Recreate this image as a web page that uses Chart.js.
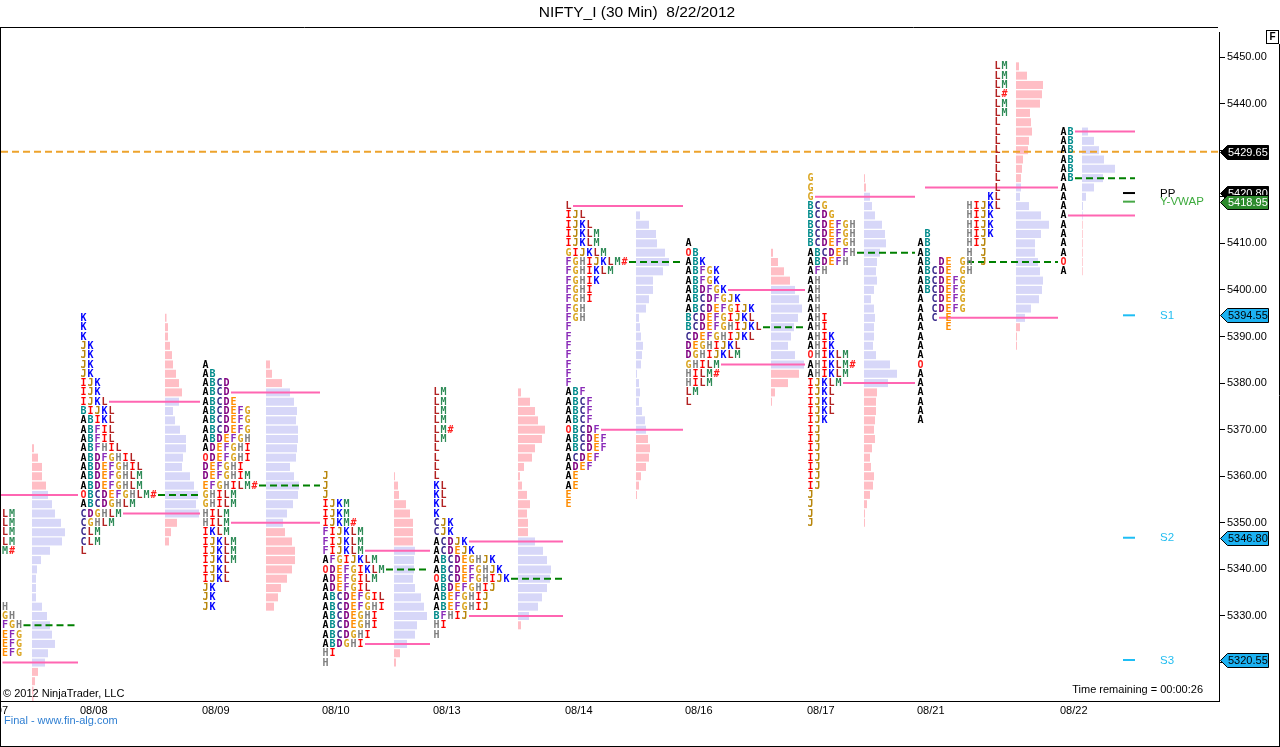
<!DOCTYPE html>
<html><head><meta charset="utf-8">
<script src="https://cdn.jsdelivr.net/npm/chart.js@4.4.0/dist/chart.umd.min.js"></script>
<style>html,body{margin:0;padding:0;background:#fff;}canvas{display:block;}</style>
</head><body>
<canvas id="c" width="1280" height="747"></canvas>
<script>
// ================= DATA =================
const dayLabels = ['08/07','08/08','08/09','08/10','08/13','08/14','08/16','08/17','08/21','08/22'];
// time-axis slot where each session profile begins / ends
const dayX   = [-19.5, 80, 202, 322, 433, 565, 685, 807, 917, 1060];
const dayEnd = [78, 200, 320, 430, 563, 683, 805, 915, 1058, 1135];
// price of the first TPO row of each session (rows step down by 2 points)
const tpoTop = [5366, 5394, 5384, 5360, 5378, 5418, 5410, 5424, 5448, 5434];

const tpo0807 = ['AB','AB','AB','ABI','ABI','AB','ABI','ABILM','ABILM','ABILM','ABILM','ABKM#','ABC','ABC','AB','AB','AB','ABGH','ABFGH','ABEFGH','ABDEFG','ABDEFG','ABDEFG','ABC','AB','A','A','A'];
const tpo0808 = ['K','K','K','JK','JK','JK','JK','IJK','IJK','IJKL','BIJKL','ABIKL','ABFIL','ABFIL','ABFHIL','ABDFGHIL','ABDEFGHIL','ABDEFGHLM','ABDEFGHLM','OBCDEFGHLM#','ABCDGHLM','CDGHLM','CGHLM','CLM','CLM','L'];
const tpo0809 = ['A','AB','ABCD','ABCD','ABCDE','ABCDEFG','ABCDEFG','ABCDEFG','ABDEFGH','ADEFGHI','ODEFGHI','DEFGHI','DEFGHIM','EFGHILM#','GHILM','GHILM','HILM','HILM','IKLM','IJKLM','IJKLM','IJKLM','IJKL','IJKL','JK','JK','JK'];
const tpo0810 = ['J','J','J','IJKM','IJKM','IJKM#','FIJKLM','FIJKLM','FIJKLM','AFGIJKLM','ODEFGIKLM','ADEFGILM','ADEFGIL','ABCDEFGIL','ABCDEFGHI','ABCDEGHI','ABCDEGHI','ABCDGHI','ABDGHI','HI','H'];
const tpo0813 = ['LM','LM','LM','LM','LM#','LM','L','L','L','L','KL','KL','KL','K','CJK','CJK','ACDJK','ACDEJK','ABCDEGHJK','ABCDEFGHJK','OBCDEFGHIJK','ABDEFGHIJ','ABEFGHIJ','ABEFGHIJ','BFHIJ','HI','H'];
const tpo0814 = ['L','IJL','IJKL','IJKLM','IJKLM','GIJKLM','FGHIJKLM#','FGHIKLM','FGHIK','FGHI','FGHI','FGH','FGH','F','F','F','F','F','F','F','ABF','ABCF','ABCF','ABCF','OBCDF','ABCDEF','ABCDEF','ACDEF','ADEF','AE','AE','E','E'];
const tpo0816 = ['A','OB','ABK','ABFGK','ABFGK','ABDFGK','ABCDFGJK','ABCDEFGIJK','BCDEFGIJKL','BCDEFGHIJKL','CDEFGHIJKL','DEGHIJKL','DGHIJKLM','GHILM','HILM#','HILM','LM','L'];
const tpo0817 = ['G','G','G','BCG','BCDG','BCDEFGH','BCDEFGH','BCDEFGH','ABCDEFH','ABDEFH','AFH','AH','AH','AH','AH','AHI','AHI','AHIK','AHIK','OHIKLM','AHIKLM#','AHIKLM','IJKLM','IJKL','IJKL','IJKL','IJK','IJ','IJ','IJ','IJ','IJ','IJ','IJ','J','J','J','J'];
const tpo0821 = ['           LM','           LM','           LM','           L#','           LM','           LM','           L','           L','           L','           L','           L','           L','           L','           L','          KL','       HIJKL','       HIJK','       HIJK',' B     HIJK','AB     HIJ','AB     H J','AB DE GH J','ABCDE GH','ABCDEFG','ABCDEFG','A CDEFG','A CDEFG','A C E','A   E','A','A','A','O','A','A','A','A','A','A'];
const tpo0822 = ['AB','AB','AB','AB','AB','AB','A','A','A','A','A','A','A','A','O','A'];

// volume histogram of each session (row widths), first row price and start slot
const histX   = [32, 165, 266, 394, 518, 636, 771, 864, 1016, 1082];
const histTop = [5366, 5394, 5384, 5360, 5378, 5416, 5408, 5424, 5448, 5434];
const hist0807 = [2,6,10,10,14,16,20,23,29,33,30,18,9,5,4,4,4,10,15,18,20,23,16,13,6,3,1.5,1.5];
const hist0808 = [1.5,3,3,5,7,8,11,14,17,14,8,10,15,21,21,18,17,25,29,33,31,34,12,6,4];
const hist0809 = [4,6,16,24,28,31,30,32,32,31,30,24,28,33,32,27,21,17,19,26,29,29,26,21,15,12,8];
const hist0810 = [1,4,5,12,16,19,19,19,21,20,20,19,21,27,30,33,23,21,13,6,2];
const hist0813 = [3,12,17,20,27,24,17,14,6,2,4,9,12,9,10,10,17,25,29,33,32,29,24,20,11,3];
const hist0814 = [4,13,20,21,29,33,27,17,17,13,10,3,4,5,7,6,5,1,3,4,3,6,9,10,12,14,13,10,5,3,1];
const hist0816 = [2,7,13,19,24,28,31,27,23,20,17,24,33,28,17,4,1];
const hist0817 = [1,2,6,8,11,18,21,22,16,13,12,13,10,7,10,11,10,10,9,12,26,33,24,13,12,12,11,10,11,8,6,7,10,9,6,3,1,1];
const hist0821 = [3,11,27,26,24,14,15,16,13,12,7,6,5,5,4,13,25,33,25,19,19,22,24,27,26,23,15,9,4,1,1];
const hist0822 = [6,12,17,22,33,21,12,4,1,0.7,0.7,0.7,0.7,0.7,0.7,0.7];

const vahPrice = [5356, 5376, 5378, 5344, 5346, 5418, 5400, 5420, 5422, 5434];
const pocPrice = [5328, 5356, 5358, 5340, 5338, 5406, 5392, 5408, 5406, 5424];
const valPrice = [5320, 5352, 5350, 5324, 5330, 5370, 5384, 5380, 5394, 5416];

const yTicks = [5320,5330,5340,5350,5360,5370,5380,5390,5400,5410,5420,5430,5440,5450];
const lastPrice = 5429.65;
const pivotNames  = ['PP','Y-VWAP','S1','S2','S3'];
const pivotValues = [5420.80, 5418.95, 5394.55, 5346.80, 5320.55];
const axisMarks   = [5429.65, 5420.80, 5418.95, 5394.55, 5346.80, 5320.55];

// ================= STYLE =================
const rowStep = 2;
const CW = 7;
const PINK_BAR = '#FFBEC5', LAV_BAR = '#D7D7F8';
const PINK_LINE = '#FF66B2', GREEN_LINE = '#008000', ORANGE_LINE = '#EDA32C';
const letterColor = {A:'#000000',B:'#008B8B',C:'#3A2A8C',D:'#800080',E:'#FF8C00',F:'#8A2BB8',G:'#DAA520',H:'#808080',I:'#FF0000',J:'#B8860B',K:'#0000FF',L:'#B22222',M:'#2E8B57',O:'#FF2020','#':'#FF2020'};
const pivotColors = ['#000000','#46A846','#1EBEF5','#1EBEF5','#1EBEF5'];
const pivotTextColors = ['#000000','#3DAA3D','#22BDF0','#22BDF0','#22BDF0'];
const pivotLineX = [1123, 1135];
const pivotLabelX = 1160;
const markFill = ['#000000','#000000','#2E8B2E','#1CB2F2','#1CB2F2','#1CB2F2'];
const markText = ['#FFFFFF','#FFFFFF','#FFFFFF','#000000','#000000','#000000'];
const SANS = '"Liberation Sans", Arial, sans-serif';

// ================= BUILD =================
const tpoDays  = [tpo0807,tpo0808,tpo0809,tpo0810,tpo0813,tpo0814,tpo0816,tpo0817,tpo0821,tpo0822];
const histDays = [hist0807,hist0808,hist0809,hist0810,hist0813,hist0814,hist0816,hist0817,hist0821,hist0822];

const barData = [], barColors = [];
histDays.forEach((h, d) => h.forEach((w, i) => {
  const p = histTop[d] - rowStep * i;
  barData.push({x: [histX[d], histX[d] + w], y: p});
  barColors.push(p <= vahPrice[d] && p >= valPrice[d] ? LAV_BAR : PINK_BAR);
}));

function rowLetters(d, p) {
  const s = tpoDays[d][Math.round((tpoTop[d] - p) / rowStep)] || '';
  return s.replace(/ /g, '').length;
}
function levelLine(d, p, color, dash) {
  return {type: 'line', data: [{x: dayX[d] + rowLetters(d, p) * CW + 1, y: p}, {x: dayEnd[d], y: p}],
    borderColor: color, borderWidth: 2, borderDash: dash, pointRadius: 0, fill: false, order: 0};
}
const lineSets = [];
dayX.forEach((_, d) => {
  lineSets.push(levelLine(d, vahPrice[d], PINK_LINE, []));
  lineSets.push(levelLine(d, valPrice[d], PINK_LINE, []));
  lineSets.push(levelLine(d, pocPrice[d], GREEN_LINE, [7, 4]));
});
lineSets.push({type: 'line', data: [{x: 1, y: lastPrice}, {x: 1219, y: lastPrice}], borderColor: ORANGE_LINE,
  borderWidth: 2, borderDash: [7, 4], pointRadius: 0, fill: false, order: 0});
pivotValues.forEach((v, k) => lineSets.push({type: 'line', data: [{x: pivotLineX[0], y: v}, {x: pivotLineX[1], y: v}],
  borderColor: pivotColors[k], borderWidth: 2, pointRadius: 0, fill: false, order: 0}));

const tpoPlugin = {
  id: 'tpo',
  afterDatasetsDraw(chart) {
    const {ctx, chartArea: a, scales: {x, y}} = chart;
    ctx.save();
    ctx.beginPath(); ctx.rect(a.left, a.top, a.right - a.left, a.bottom - a.top); ctx.clip();
    ctx.font = 'bold 10px "DejaVu Sans Mono", monospace';
    ctx.textAlign = 'center'; ctx.textBaseline = 'middle';
    tpoDays.forEach((rows, d) => rows.forEach((s, i) => {
      const py = y.getPixelForValue(tpoTop[d] - rowStep * i);
      for (let j = 0; j < s.length; j++) {
        const ch = s[j]; if (ch === ' ') continue;
        ctx.fillStyle = letterColor[ch] || '#000';
        ctx.fillText(ch, x.getPixelForValue(dayX[d] + (j + 0.5) * CW), py + 0.5);
      }
    }));
    ctx.restore();
  }
};

const decorPlugin = {
  id: 'decor',
  afterDraw(chart) {
    const {ctx, scales: {x, y}} = chart;
    ctx.save();
    // frame
    ctx.strokeStyle = '#000'; ctx.lineWidth = 1;
    ctx.beginPath();
    ctx.moveTo(0, 27.5); ctx.lineTo(1218, 27.5);
    ctx.moveTo(0.5, 27); ctx.lineTo(0.5, 747);
    ctx.moveTo(0, 701.5); ctx.lineTo(1220, 701.5);
    ctx.moveTo(1219.5, 32); ctx.lineTo(1219.5, 702);
    ctx.moveTo(0, 746.5); ctx.lineTo(1280, 746.5);
    ctx.moveTo(1279.5, 44); ctx.lineTo(1279.5, 747);
    ctx.stroke();
    ctx.strokeRect(1266.5, 30.5, 12, 13);
    ctx.fillStyle = '#000'; ctx.font = 'bold 10px ' + SANS; ctx.textAlign = 'center'; ctx.textBaseline = 'middle';
    ctx.fillText('F', 1272.5, 37.5);
    // title
    ctx.font = '15.5px ' + SANS; ctx.fillText('NIFTY_I (30 Min)  8/22/2012', 637, 13);
    // texts
    ctx.font = '11px ' + SANS; ctx.textAlign = 'left';
    ctx.fillText('\u00A9 2012 NinjaTrader, LLC', 3, 694);
    ctx.textAlign = 'right'; ctx.fillText('Time remaining = 00:00:26', 1203, 690);
    ctx.textAlign = 'left'; ctx.fillStyle = '#2F7FD2'; ctx.fillText('Final - www.fin-alg.com', 4, 721);
    // pivot labels
    ctx.font = '11.5px ' + SANS;
    pivotNames.forEach((n, k) => {
      ctx.fillStyle = pivotTextColors[k];
      ctx.fillText(n, x.getPixelForValue(pivotLabelX), y.getPixelForValue(pivotValues[k]) + 0.5);
    });
    // axis price markers
    ctx.font = '11px ' + SANS;
    axisMarks.forEach((v, k) => {
      const py = Math.round(y.getPixelForValue(v)) + 0.5;
      ctx.beginPath();
      ctx.moveTo(1220.5, py); ctx.lineTo(1227.5, py - 7); ctx.lineTo(1268.5, py - 7);
      ctx.lineTo(1268.5, py + 7); ctx.lineTo(1227.5, py + 7); ctx.closePath();
      ctx.fillStyle = markFill[k]; ctx.fill();
      ctx.strokeStyle = '#000'; ctx.stroke();
      ctx.fillStyle = markText[k]; ctx.textAlign = 'left';
      ctx.fillText(v.toFixed(2), 1228, py + 0.5);
    });
    ctx.restore();
  }
};

new Chart(document.getElementById('c'), {
  type: 'bar',
  data: {
    datasets: [
      {type: 'bar', indexAxis: 'y', data: barData, backgroundColor: barColors, borderWidth: 0,
       barThickness: 8, inflateAmount: 0, order: 5},
      ...lineSets
    ]
  },
  options: {
    responsive: false, devicePixelRatio: 1, animation: false, events: [],
    layout: {padding: {left: 1, top: 28, right: 0, bottom: 0}},
    plugins: {legend: {display: false}, tooltip: {enabled: false}, title: {display: false}},
    scales: {
      x: {type: 'linear', min: 1, max: 1219, offset: false, bounds: 'data',
        afterBuildTicks: s => { s.ticks = dayX.map(v => ({value: v})); },
        afterFit: s => { s.height = 46; s.paddingLeft = 0; s.paddingRight = 0; },
        grid: {display: false, drawTicks: false, offset: false}, border: {display: false},
        ticks: {autoSkip: false, maxRotation: 0, minRotation: 0, align: 'start', padding: 3, color: '#000',
          font: {family: SANS, size: 11}, callback: (v, i) => dayLabels[i]}},
      y: {type: 'linear', position: 'right', min: 5311.75, max: 5456.23, offset: false, bounds: 'data',
        afterBuildTicks: s => { s.ticks = yTicks.map(v => ({value: v})); },
        afterFit: s => { s.width = 61; s.paddingTop = 0; s.paddingBottom = 0; },
        grid: {display: true, drawOnChartArea: false, drawTicks: true, tickLength: 6, color: '#000', offset: false},
        border: {display: false},
        ticks: {autoSkip: false, padding: 2, color: '#000', font: {family: SANS, size: 11},
          callback: v => Number(v).toFixed(2)}}
    }
  },
  plugins: [tpoPlugin, decorPlugin]
});
</script>
</body></html>
